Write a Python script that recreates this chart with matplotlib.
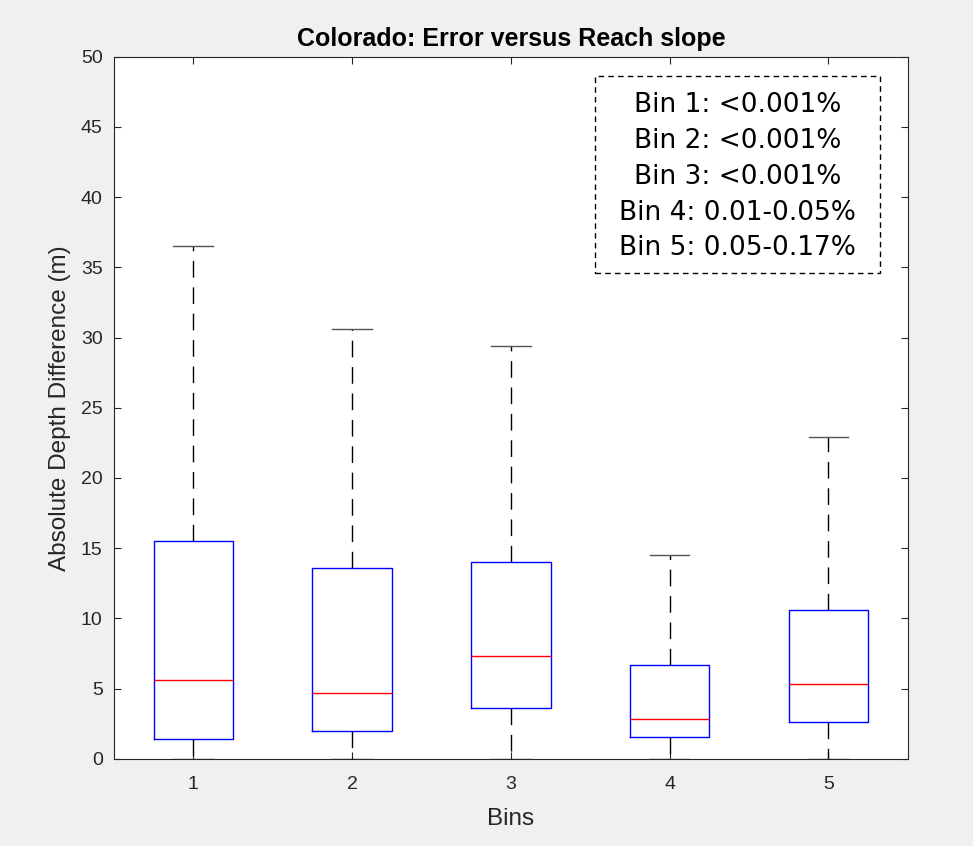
import matplotlib
matplotlib.use("Agg")
import matplotlib.pyplot as plt
from matplotlib.patches import Rectangle

bins = ["1", "2", "3", "4", "5"]
whislo = [0.0, 0.0, 0.0, 0.0, 0.0]
q1 = [1.4, 2.0, 3.6, 1.55, 2.6]
med = [5.6, 4.7, 7.3, 2.85, 5.3]
q3 = [15.5, 13.6, 14.0, 6.7, 10.6]
whishi = [36.5, 30.6, 29.4, 14.5, 22.9]
legend_lines = ["Bin 1: <0.001%", "Bin 2: <0.001%", "Bin 3: <0.001%",
                "Bin 4: 0.01-0.05%", "Bin 5: 0.05-0.17%"]

plt.rcParams['font.family'] = ['Liberation Sans', 'DejaVu Sans']
fg = '#262626'

fig = plt.figure(figsize=(9.73, 8.46), dpi=100, facecolor='#f0f0f0')
ax = fig.add_axes([0.117, 0.103, 0.816, 0.830])
ax.set_facecolor('white')

stats = []
for i in range(len(bins)):
    stats.append(dict(label=bins[i], whislo=whislo[i], q1=q1[i], med=med[i],
                      q3=q3[i], whishi=whishi[i], fliers=[]))

ax.bxp(stats, positions=range(1, len(bins) + 1), widths=0.5, capwidths=0.25,
       showfliers=False,
       boxprops=dict(color='blue', linewidth=1.0),
       medianprops=dict(color='red', linewidth=1.0),
       whiskerprops=dict(color='black', linewidth=1.0, linestyle=(0, (12, 7))),
       capprops=dict(color='#555555', linewidth=1.0))

ax.set_xlim(0.5, 5.5)
ax.set_ylim(0, 50)
ax.set_yticks(range(0, 51, 5))
ax.set_xticks(range(1, 6))
ax.set_xticklabels(bins)
ax.tick_params(direction='in', top=True, right=True, length=5, width=0.8,
               colors=fg, labelsize=14)
ax.tick_params(axis='x', pad=12)
ax.tick_params(axis='y', pad=8)
for s in ax.spines.values():
    s.set_color(fg)
    s.set_linewidth(0.8)

ax.set_title("Colorado: Error versus Reach slope", fontsize=18, fontweight='bold',
             color='black', pad=8)
ax.set_xlabel("Bins", fontsize=17.5, color=fg, labelpad=11)
ax.set_ylabel("Absolute Depth Difference (m)", fontsize=17.5, color=fg, labelpad=7)

rect = Rectangle((0.606, 0.692), 0.359, 0.281, transform=ax.transAxes,
                 fill=False, edgecolor='black', linewidth=1.0, linestyle=(0, (4, 3)))
ax.add_patch(rect)
ax.text(0.7855, 0.829, "\n".join(legend_lines), transform=ax.transAxes,
        ha='center', va='center', fontsize=19, family=['DejaVu Sans'],
        linespacing=1.49, color='black')

fig.savefig("out.png", dpi=100, facecolor=fig.get_facecolor())
